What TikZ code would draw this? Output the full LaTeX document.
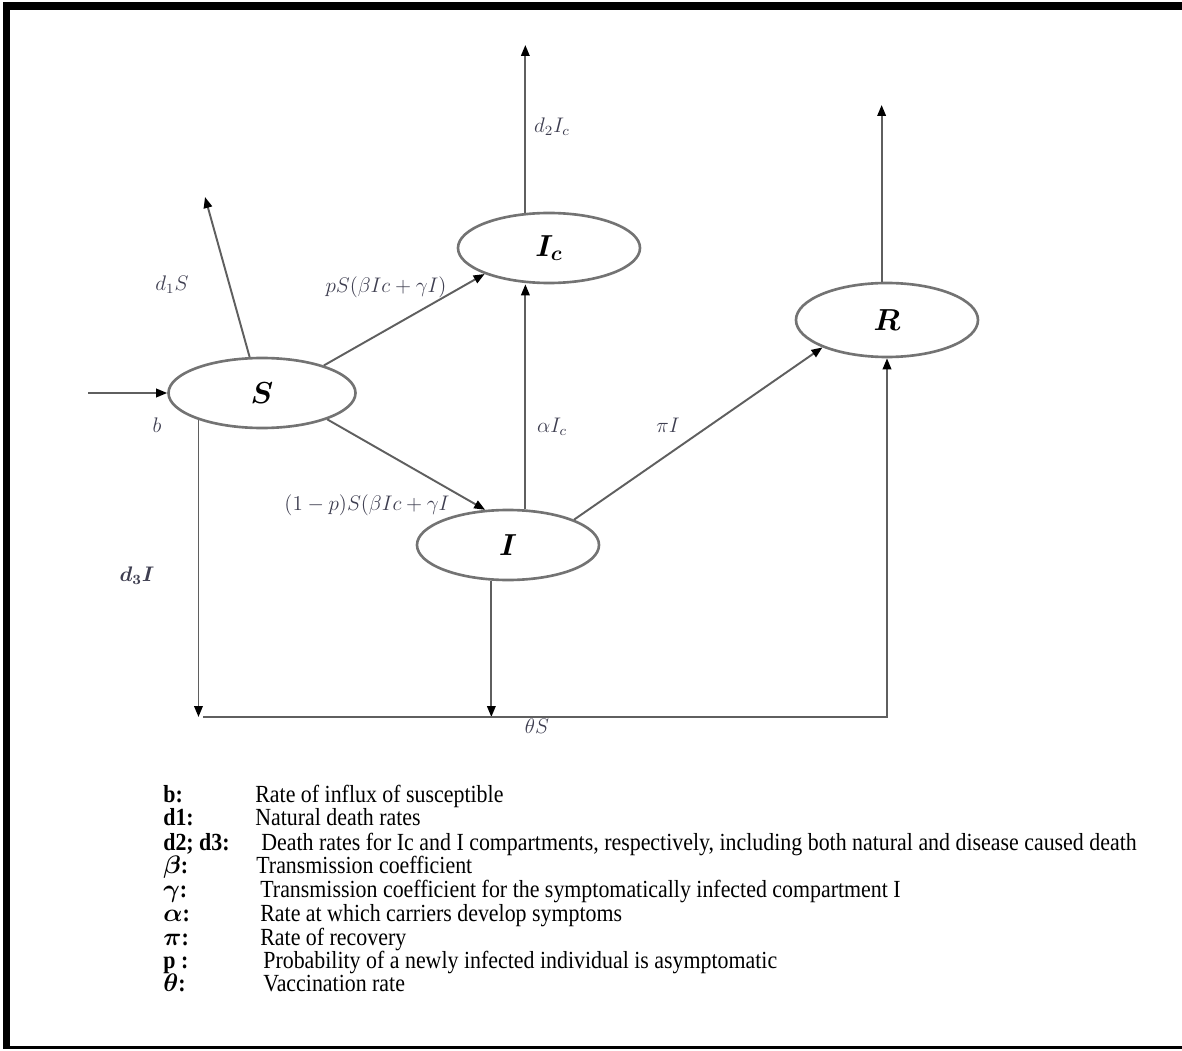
\documentclass[tikz,border=0pt]{standalone}
\usepackage{amsmath}
\usepackage{bm}
\usepackage{fontspec}
\usepackage{tikz}
\usetikzlibrary{positioning, calc, arrows.meta, shapes.geometric}
\newfontfamily\legendfont[FakeStretch=0.89]{Liberation Serif}
\definecolor{linegray}{RGB}{95,95,95}
\definecolor{ratecol}{RGB}{62,62,80}
\newcommand{\comp}[1]{\fontsize{18}{20}\selectfont$\bm{#1}$}

\begin{document}
\begin{tikzpicture}[x=0.2mm, y=-0.2mm,
    box/.style={ellipse, draw=black!55, line width=1.5pt, minimum width=36.4mm, minimum height=14mm, inner sep=0pt},
    flow/.style={draw=linegray, line width=1.1pt, -{Triangle[length=2.2mm,width=1.7mm,color=black]}},
    rate/.style={text=ratecol, font=\large, inner sep=0pt},
    key/.style={anchor=west, inner sep=0pt, text height=8.5pt, text depth=2pt, font=\legendfont\fontsize{14}{16}\selectfont\bfseries},
    txt/.style={anchor=west, inner sep=0pt, text height=8.5pt, text depth=2pt, font=\legendfont\fontsize{14}{16}\selectfont}]
      \useasboundingbox (0,0) rectangle (1182,1051);
      \fill (3,2) rectangle (1182,10);
      \fill (3,2) rectangle (10,1049);
      \fill (3,1046) rectangle (1182,1049);

      \node[box, minimum width=37.4mm] (S) at (262,393) {\comp{S}};
      \node[box] (Ic) at (549,248) {\comp{I_c}};
      \node[box, minimum height=14.8mm] (R) at (887,320) {\comp{R}};
      \node[box] (I) at (508,545) {\comp{I}};

      \coordinate (inb) at (88,393);
      \coordinate (outS) at (205,197);
      \coordinate (outIc) at (525,45);
      \coordinate (outR) at (880,105);
      \coordinate (bl) at (203,717);
      \coordinate (br) at (R.south |- bl);

      \draw[flow] (inb) -- (S.west);
      \draw[flow] (S.109) -- (outS);
      \draw[flow] (S.24) -- (Ic.202);
      \draw[flow] (S.-22) -- (I.123);
      \draw[flow] (Ic.124) -- (Ic.124 |- outIc);
      \draw[flow] (I.64) -- (I.64 |- Ic.south);
      \draw[flow] (I.21) -- (R.203);
      \draw[flow] (R.98) -- (R.98 |- outR);
      \draw[flow] (S.203) -- (S.203 |- bl);
      \draw[flow] (I.245) -- (I.245 |- bl);
      \draw[flow] (bl) -- (br) -- (R.south);

      \node[rate] (lb) at (157,425) {$b$};
      \node[rate] (ld1) at (172,285) {$d_1 S$};
      \node[rate] (lpS) at (386,287) {$pS(\beta Ic + \gamma I)$};
      \node[rate] (ld2) at (552,127) {$d_2 I_c$};
      \node[rate] (lal) at (552,427) {$\alpha I_c$};
      \node[rate] (lpi) at (668,425) {$\pi I$};
      \node[rate] (lqS) at (367,505) {$(1-p)S(\beta Ic + \gamma I$};
      \node[rate] (ld3) at (137,576) {$\bm{d_3 I}$};
      \node[rate] (lth) at (537,726) {$\theta S$};

      % legend
      \node[key] (kb) at (163,797) {b:};
      \node[txt] (tb) at (255,797) {Rate of influx of susceptible};
      \node[key] (kd1) at (163,820) {d1:};
      \node[txt] (td1) at (255,820) {Natural death rates};
      \node[key] (kd2) at (163,845) {d2; d3:};
      \node[txt] (td2) at (261,845) {Death rates for Ic and I compartments, respectively, including both natural and disease caused death};
      \node[key] (kbeta) at (163,868) {$\bm{\beta}$:};
      \node[txt] (tbeta) at (256,868) {Transmission coefficient};
      \node[key] (kgam) at (163,892) {$\bm{\gamma}$:};
      \node[txt] (tgam) at (260,892) {Transmission coefficient for the symptomatically infected compartment I};
      \node[key] (kal) at (163,916) {$\bm{\alpha}$:};
      \node[txt] (tal) at (260,916) {Rate at which carriers develop symptoms};
      \node[key] (kpi) at (163,940) {$\bm{\pi}$:};
      \node[txt] (tpi) at (260,940) {Rate of recovery};
      \node[key] (kp) at (163,963) {p :};
      \node[txt] (tp) at (263,963) {Probability of a newly infected individual is asymptomatic};
      \node[key] (kth) at (163,986) {$\bm{\theta}$:};
      \node[txt] (tth) at (263,986) {Vaccination rate};
    \end{tikzpicture}
\end{document}
